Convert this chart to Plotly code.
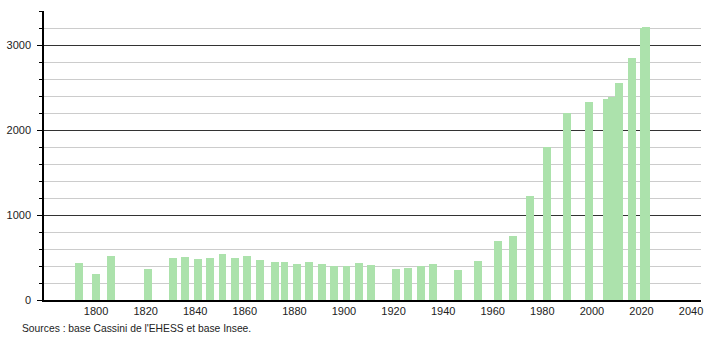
import plotly.graph_objects as go

years = [1793, 1800, 1806, 1821, 1831, 1836, 1841, 1846, 1851, 1856, 1861, 1866,
         1872, 1876, 1881, 1886, 1891, 1896, 1901, 1906, 1911, 1921, 1926, 1931,
         1936, 1946, 1954, 1962, 1968, 1975, 1982, 1990, 1999, 2006, 2008, 2011,
         2016, 2021, 2022]
population = [435, 306, 520, 365, 490, 505, 478, 494, 537, 494, 520, 470,
              451, 451, 424, 443, 424, 396, 396, 435, 412, 361, 373, 400,
              427, 353, 457, 698, 753, 1224, 1796, 2196, 2333, 2365, 2385, 2549,
              2847, 3196, 3215]
x_ticks = [1800, 1820, 1840, 1860, 1880, 1900, 1920, 1940, 1960, 1980, 2000, 2020, 2040]
y_ticks = [0, 1000, 2000, 3000]
source_text = "Sources : base Cassini de l'EHESS et base Insee."

fig = go.Figure()
fig.add_trace(go.Bar(
    x=years, y=population, width=3.2,
    marker=dict(color="rgb(172,226,172)", line=dict(width=0)),
    hoverinfo="x+y",
))

fig.update_layout(
    width=710, height=340,
    margin=dict(l=44, r=7, t=11, b=40),
    paper_bgcolor="white", plot_bgcolor="white",
    font=dict(family="Liberation Sans, Arial, sans-serif", size=11, color="#222"),
    showlegend=False,
    bargap=0,
    xaxis=dict(
        range=[1779, 2044], tickvals=x_ticks, ticks="", showgrid=False,
        showline=True, linecolor="black", linewidth=1.5, zeroline=False,
        ticklabelstandoff=0, tickfont=dict(size=11),
    ),
    yaxis=dict(
        range=[0, 3400], tickvals=y_ticks, ticks="outside", ticklen=5,
        tickcolor="black", showline=True, linecolor="black", linewidth=1.5,
        showgrid=True, gridcolor="#333", gridwidth=1, zeroline=False,
        ticklabelstandoff=4, tickfont=dict(size=11),
        minor=dict(dtick=200, tick0=0, ticks="outside", ticklen=3, tickcolor="black",
                   showgrid=True, gridcolor="#cccccc", gridwidth=1),
    ),
    annotations=[dict(
        text=source_text, xref="paper", yref="paper", x=-0.037, y=-0.097,
        xanchor="left", yanchor="middle", showarrow=False,
        font=dict(size=10.3, color="#222"),
    )],
)

fig.write_html("out.html")
